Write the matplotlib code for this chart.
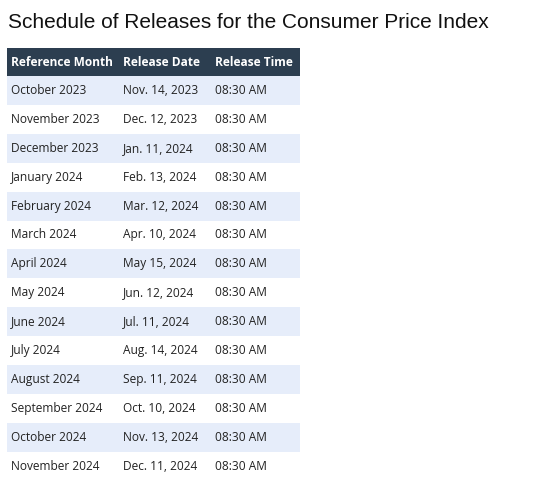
import matplotlib
matplotlib.use("Agg")
import matplotlib.pyplot as plt
from matplotlib.patches import Rectangle

title = "Schedule of Releases for the Consumer Price Index"
columns = ["Reference Month", "Release Date", "Release Time"]
ref_months = ["October 2023", "November 2023", "December 2023", "January 2024", "February 2024",
              "March 2024", "April 2024", "May 2024", "June 2024", "July 2024", "August 2024",
              "September 2024", "October 2024", "November 2024"]
release_dates = ["Nov. 14, 2023", "Dec. 12, 2023", "Jan. 11, 2024", "Feb. 13, 2024", "Mar. 12, 2024",
                 "Apr. 10, 2024", "May 15, 2024", "Jun. 12, 2024", "Jul. 11, 2024", "Aug. 14, 2024",
                 "Sep. 11, 2024", "Oct. 10, 2024", "Nov. 13, 2024", "Dec. 11, 2024"]
release_times = ["08:30 AM"] * 14

W, H = 534, 483
fig = plt.figure(figsize=(W/100, H/100), dpi=100)
ax = fig.add_axes([0, 0, 1, 1])
ax.set_xlim(0, W); ax.set_ylim(H, 0); ax.axis("off")

ax.text(8, 23, title, fontsize=15, family="Liberation Sans", va="center", ha="left", color="#111111")

x0, x1 = 7, 300
colx = [11, 123, 215]
hy0, hy1 = 48, 76
rh = 28.9
font = "Open Sans"
ax.add_patch(Rectangle((x0, hy0), x1-x0, hy1-hy0, color="#2c3e50", lw=0))
for cx, c in zip(colx, columns):
    ax.text(cx, (hy0+hy1)/2, c, fontsize=8.6, family=font, weight="bold", color="white", va="center", ha="left")
for i, row in enumerate(zip(ref_months, release_dates, release_times)):
    y = hy1 + i*rh
    if i % 2 == 0:
        ax.add_patch(Rectangle((x0, y), x1-x0, rh, color="#e6edfa", lw=0))
    for cx, v in zip(colx, row):
        ax.text(cx, y + rh/2, v, fontsize=8.6, family=font, color="#222222", va="center", ha="left")

fig.savefig("out.png", dpi=100)
